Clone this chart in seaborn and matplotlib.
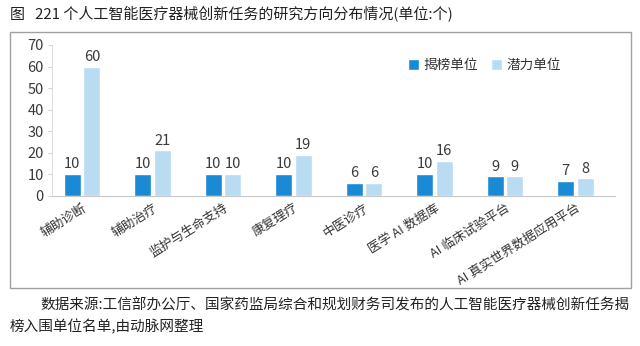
import matplotlib
matplotlib.use("Agg")
import matplotlib.pyplot as plt
import seaborn as sns
import pandas as pd
from matplotlib.patches import Rectangle

categories = ["辅助诊断", "辅助治疗", "监护与生命支持", "康复理疗", "中医诊疗",
              "医学 AI 数据库", "AI 临床试验平台", "AI 真实世界数据应用平台"]
series_names = ["揭榜单位", "潜力单位"]
jiebang = [10, 10, 10, 10, 6, 10, 9, 7]
qianli = [60, 21, 10, 19, 6, 16, 9, 8]
yticks = [0, 10, 20, 30, 40, 50, 60, 70]

title = "图   221 个人工智能医疗器械创新任务的研究方向分布情况(单位:个)"
source1 = "数据来源:工信部办公厅、国家药监局综合和规划财务司发布的人工智能医疗器械创新任务揭"
source2 = "榜入围单位名单,由动脉网整理"

sns.set_theme(style="white")
plt.rcParams['font.family'] = ['Noto Sans CJK SC', 'DejaVu Sans']

df = pd.DataFrame({
    "cat": categories * 2,
    "series": [series_names[0]] * len(categories) + [series_names[1]] * len(categories),
    "val": jiebang + qianli,
})

W, H = 640, 346
fig = plt.figure(figsize=(W / 100, H / 100), dpi=100)
ax = fig.add_axes([52 / W, (H - 195.7) / H, (615 - 52) / W, (195.7 - 45) / H])

colors = ["#1a8ad4", "#badcf3"]
sns.barplot(data=df, x="cat", y="val", hue="series", palette=colors,
            width=0.56, gap=0.14, ax=ax, saturation=1, legend=True)

for cont in ax.containers:
    ax.bar_label(cont, padding=2, fontsize=10.5, color="#3a3a3a")

ax.set_ylim(0, 70)
ax.set_xlim(-0.425, 7.56)
ax.set_yticks(yticks)
ax.set_yticklabels([str(v) for v in yticks], fontsize=10.5, color="#3a3a3a")
ax.set_xlabel("")
ax.set_ylabel("")
ax.set_xticks(range(len(categories)))
ax.set_xticklabels(categories, rotation=32, ha="right", rotation_mode="anchor",
                   fontsize=9.2, color="#333333")
ax.tick_params(axis="x", length=0, pad=4)
ax.tick_params(axis="y", length=3, width=0.6, color="#c8c8c8", pad=3, left=True)
for s in ["top", "right"]:
    ax.spines[s].set_visible(False)
ax.spines["left"].set_color("#d8d8d8")
ax.spines["left"].set_linewidth(0.6)
ax.spines["bottom"].set_color("#c8c8c8")
ax.spines["bottom"].set_linewidth(0.8)

leg = ax.legend(loc="center", bbox_to_anchor=(0.768, 0.867), ncol=2, frameon=False,
                fontsize=9.8, handlelength=0.8, handleheight=0.8, handletextpad=0.3,
                columnspacing=1.0)
for t in leg.get_texts():
    t.set_color("#333333")

# outer frame
fig.patches.append(Rectangle((10 / W, (H - 288) / H), (631 - 10) / W, (288 - 32) / H,
                             transform=fig.transFigure, fill=False,
                             edgecolor="#a0a0a0", linewidth=1.0))

fig.text(10 / W, 1 - 14 / H, title, fontsize=10.8, color="#222222", va="center", ha="left")
fig.text(40 / W, 1 - 305 / H, source1, fontsize=10.5, color="#222222", va="center", ha="left")
fig.text(10 / W, 1 - 327 / H, source2, fontsize=10.5, color="#222222", va="center", ha="left")

fig.savefig("out.png", dpi=100)
